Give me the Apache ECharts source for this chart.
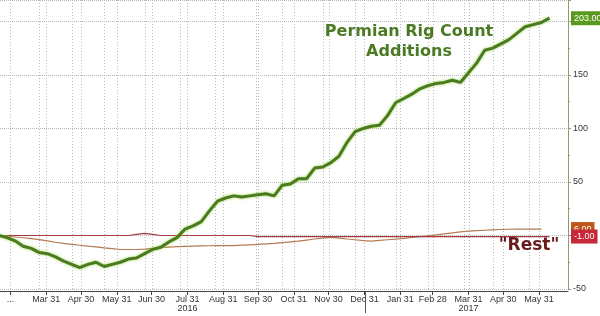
<!DOCTYPE html>
<html><head><meta charset="utf-8">
<script src="https://cdn.jsdelivr.net/npm/echarts@6/dist/echarts.min.js"></script>
<style>html,body{margin:0;padding:0;background:#fff}#c{width:600px;height:316px}</style>
</head><body><div id="c"></div>
<script>
const weekDates = [
 '2016-02-19','2016-02-26','2016-03-04','2016-03-11','2016-03-18','2016-03-25','2016-04-01','2016-04-08','2016-04-15','2016-04-22',
 '2016-04-29','2016-05-06','2016-05-13','2016-05-20','2016-05-27','2016-06-03','2016-06-10','2016-06-17','2016-06-24','2016-07-01',
 '2016-07-08','2016-07-15','2016-07-22','2016-07-29','2016-08-05','2016-08-12','2016-08-19','2016-08-26','2016-09-02','2016-09-09',
 '2016-09-16','2016-09-23','2016-09-30','2016-10-07','2016-10-14','2016-10-21','2016-10-28','2016-11-04','2016-11-11','2016-11-18',
 '2016-11-25','2016-12-02','2016-12-09','2016-12-16','2016-12-23','2016-12-30','2017-01-06','2017-01-13','2017-01-20','2017-01-27',
 '2017-02-03','2017-02-10','2017-02-17','2017-02-24','2017-03-03','2017-03-10','2017-03-17','2017-03-24','2017-03-31','2017-04-07',
 '2017-04-14','2017-04-21','2017-04-28','2017-05-05','2017-05-12','2017-05-19','2017-05-26','2017-06-02','2017-06-09'];
const permian = [0,-2,-5,-10,-12,-16,-17,-20,-24,-27,
 -30,-27,-25,-29,-27,-25,-22,-21,-17,-13,
 -11,-6,-2,6,9,13,23,32,35,37,
 36,37,38,39,37,47,48,53,53,63,
 64,68,74,87,97,100,102,103,112,124,
 128,132,137,140,142,143,145,143,152,161,
 173,175,179,183,189,195,197,199,203];
const restBrown = [0,-0.7,-1.4,-2.1,-2.9,-3.9,-5.1,-6.3,-7.4,-8.3,
 -9.1,-9.9,-10.6,-11.5,-12.3,-13.1,-13.1,-13.1,-12.7,-12,
 -11.4,-10.9,-10.4,-10.1,-9.9,-9.7,-9.6,-9.5,-9.4,-9.4,
 -9,-8.7,-8.4,-7.9,-7.4,-6.7,-6,-5.3,-4.3,-3.3,
 -2.4,-1.8,-2.5,-3.3,-4,-4.8,-5.2,-4.6,-4,-3.4,
 -2.7,-1.9,-1.1,-0.3,0.5,1.5,2.5,3.4,4.1,4.5,
 4.9,5.3,5.6,5.8,5.9,6,6,6];
const restRed = [0,0,0,0,0,0,0,0,0,0,0,0,0,0,0,0,0,1,2,1,
 0,0,0,0,0,0,0,0,0,0,0,0,
 -1,-1,-1,-1,-1,-1,-1,-1,-1,-1,-1,-1,-1,-1,-1,-1,-1,-1,-1,-1,-1,-1,-1,-1,-1,-1,-1,-1,-1,-1,-1,-1,-1,-1,-1,-1,-1];
const monthTicks = ['2016-02-29','2016-03-31','2016-04-30','2016-05-31','2016-06-30','2016-07-31','2016-08-31','2016-09-30',
 '2016-10-31','2016-11-30','2016-12-31','2017-01-31','2017-02-28','2017-03-31','2017-04-30','2017-05-31'];
const minorGridDates = ['2016-03-25','2016-04-22','2016-05-20','2016-06-24','2016-07-25','2016-08-24','2016-09-28','2016-10-21',
 '2016-11-25','2016-12-23','2017-01-27','2017-02-24','2017-03-27','2017-04-21','2017-05-22'];
const yearLabelDates = ['2016-07-31','2017-03-31'];
const yearBreakDates = ['2017-01-01'];
const xRange = ['2016-02-20','2017-06-25'];
const monthNames = ['Jan','Feb','Mar','Apr','May','Jun','Jul','Aug','Sep','Oct','Nov','Dec'];

const ts = s => { const [y,m,d] = s.split('-').map(Number); return new Date(y, m-1, d).getTime(); };
const toSeries = arr => arr.map((v,i) => [ts(weekDates[i]), v]);
const FONT = 'Liberation Sans, Arial, sans-serif';
const gridDates = monthTicks.concat(minorGridDates).map(ts);

const chart = echarts.init(document.getElementById('c'), null, { renderer: 'canvas' });
chart.setOption({
  animation: false,
  backgroundColor: '#fff',
  grid: { left: 0, right: 32, top: 0, bottom: 27 },
  xAxis: [{
    type: 'value', min: ts(xRange[0]), max: ts(xRange[1]), position: 'bottom', offset: 2, z: 3,
    axisLine: { show: true, onZero: false, lineStyle: { color: '#444', width: 1 } },
    axisTick: { show: true, length: 4, customValues: monthTicks.map(ts), lineStyle: { color: '#444' } },
    axisLabel: { customValues: monthTicks.map(ts), fontSize: 9, fontFamily: FONT, color: '#333', margin: 4,
      formatter: v => { const d = new Date(v); if (d.getMonth() === 1 && d.getDate() === 29) return '...';
        return monthNames[d.getMonth()] + ' ' + d.getDate(); } },
    splitLine: { show: false }
  }, {
    type: 'value', min: ts(xRange[0]), max: ts(xRange[1]), position: 'bottom', offset: 2,
    axisLine: { show: false, onZero: false },
    axisTick: { show: true, length: 22, customValues: yearBreakDates.map(ts), lineStyle: { color: '#555' } },
    axisLabel: { customValues: yearLabelDates.map(ts), fontSize: 9, fontFamily: FONT, color: '#333', margin: 13,
      formatter: v => String(new Date(v).getFullYear()) },
    splitLine: { show: false }
  }],
  yAxis: {
    type: 'value', position: 'right', min: -50, max: 220, interval: 50,
    axisLine: { show: true, lineStyle: { color: '#8e9a78' } },
    axisTick: { show: true, length: 3, lineStyle: { color: '#8e9a78' } },
    minorTick: { show: true, splitNumber: 2, length: 2, lineStyle: { color: '#8e9a78' } },
    axisLabel: { fontSize: 9, fontFamily: FONT, color: '#333', margin: 5,
      formatter: v => (v === 0 || v === 200 || v === 220) ? '' : String(v) },
    splitLine: { show: true, lineStyle: { type: 'dotted', color: '#b8b8b8', width: 1 } }
  },
  series: [{
    name: 'Rest brown', type: 'line', data: toSeries(restBrown), showSymbol: false, z: 3,
    lineStyle: { color: '#b47a52', width: 1.2 }
  }, {
    name: 'Rest', type: 'line', data: toSeries(restRed), showSymbol: false, z: 4,
    lineStyle: { color: '#a53a3e', width: 1.2 }
  }, {
    name: 'Permian', type: 'line', data: toSeries(permian), showSymbol: false, z: 5,
    lineStyle: { color: '#4a7b1f', width: 3, shadowColor: 'rgba(150,210,70,0.9)', shadowBlur: 3 }
  }]
});

// vertical dotted gridlines through the x-axis scale
const yTop = chart.convertToPixel({ yAxisIndex: 0 }, 220);
const yBottom = chart.convertToPixel({ yAxisIndex: 0 }, -50);
const graphics = gridDates.map(t => {
  const x = Math.round(chart.convertToPixel({ xAxisIndex: 0 }, t)) + 0.5;
  return { type: 'line', silent: true, z: -1,
    shape: { x1: x, y1: yTop, x2: x, y2: yBottom + 2 },
    style: { stroke: '#b8b8b8', lineWidth: 1, lineDash: [1, 2] } };
});

// value boxes on the right axis, positioned through the y-axis scale
const boxes = [
  { value: restBrown[restBrown.length - 1], bg: '#c0571c' },
  { value: restRed[restRed.length - 1], bg: '#c7283a' },
  { value: permian[permian.length - 1], bg: '#5b9a1f' }
];
const axisX = chart.convertToPixel({ xAxisIndex: 0 }, ts(xRange[1]));
boxes.forEach((b, i) => graphics.push({
  type: 'text', x: axisX + 3, y: chart.convertToPixel({ yAxisIndex: 0 }, b.value), z: 20 + i,
  style: { text: b.value.toFixed(2), font: '9px ' + FONT, fill: '#fff', backgroundColor: b.bg,
    padding: [3, 3, 2, 3], textVerticalAlign: 'middle', textAlign: 'left' }
}));
graphics.push({
  type: 'text', x: 409, y: 22, z: 10,
  style: { text: 'Permian Rig Count\nAdditions', textAlign: 'center', textVerticalAlign: 'top',
    font: 'bold 16px "DejaVu Sans"', fill: '#4a7a23', lineHeight: 20 }
}, {
  type: 'text', x: 529, y: 246, z: 10,
  style: { text: '"Rest"', textAlign: 'center', textVerticalAlign: 'middle',
    font: 'bold 17px "DejaVu Sans"', fill: '#6b1b1b' }
});
chart.setOption({ graphic: graphics });
</script></body></html>
